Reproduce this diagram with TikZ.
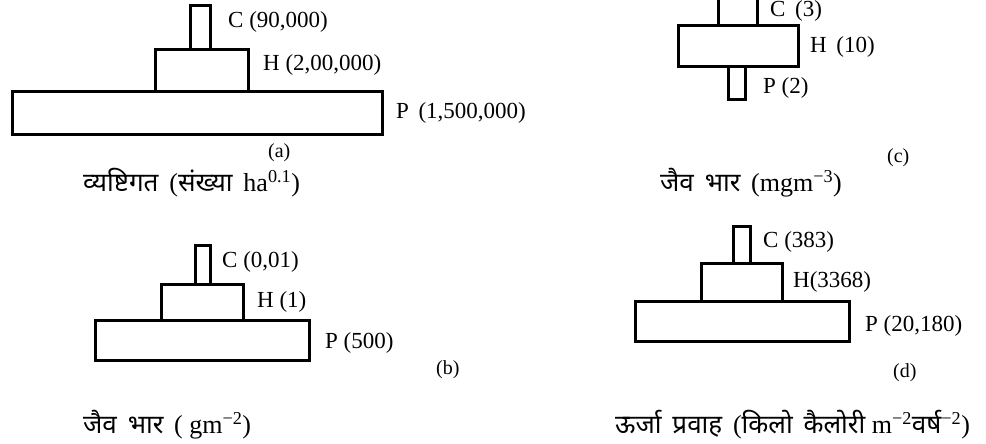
\documentclass[tikz,border=0pt]{standalone}
\usepackage{fontspec}
\setmainfont{Liberation Serif}
\newfontfamily\deva[Script=Devanagari,WordSpace=1.6]{Noto Sans}
\begin{document}
\begin{tikzpicture}[x=1pt,y=-1pt,
  tier/.style={draw, line width=3pt, inner sep=0pt, outer sep=0pt, anchor=north west},
  lab/.style={anchor=west, inner sep=0pt, font=\fontsize{23}{23}\selectfont},
  tag/.style={anchor=west, inner sep=0pt, font=\fontsize{20}{20}\selectfont},
  captext/.style={anchor=west, inner sep=0pt, font=\fontsize{26}{26}\selectfont}]
\useasboundingbox (0,0) rectangle (986,444);
\clip (0,0) rectangle (986,444);
% ---------- (a) ----------
\node[tier, minimum width=20, minimum height=44] (aC) at (190,6) {};
\node[tier, minimum width=93, minimum height=42] (aH) at (155,50) {};
\node[tier, minimum width=370, minimum height=42] (aP) at (12,92) {};
\node[lab] (aCl) at (228,22) {C (90,000)};
\node[lab] (aHl) at (263,65) {H (2,00,000)};
\node[lab] (aPl) at (396,113) {P\, (1,500,000)};
\node[tag] (aT) at (268,153) {(a)};
\node[captext] (aCap) at (83,183) {{\deva व्यष्टिगत} \,({\deva संख्या} \,ha\textsuperscript{0.1})};
% ---------- (b) ----------
\node[tier, minimum width=15, minimum height=39] (bC) at (195,245) {};
\node[tier, minimum width=82, minimum height=36] (bH) at (161,284) {};
\node[tier, minimum width=214, minimum height=40] (bP) at (95,320) {};
\node[lab] (bCl) at (222,262) {C (0,01)};
\node[lab] (bHl) at (257,302) {H (1)};
\node[lab] (bPl) at (325,343) {P (500)};
\node[tag] (bT) at (436,370) {(b)};
\node[captext] (bCap) at (83,425) {{\deva जैव भार} \,( gm\textsuperscript{−2})};
% ---------- (c) ----------
\node[tier, minimum width=39, minimum height=40] (cC) at (718,-14) {};
\node[tier, minimum width=120, minimum height=41] (cH) at (678,26) {};
\node[tier, minimum width=17, minimum height=33] (cP) at (728,67) {};
\node[lab] (cCl) at (770,11) {C\, (3)};
\node[lab] (cHl) at (810,47) {H\, (10)};
\node[lab] (cPl) at (763,88) {P (2)};
\node[tag] (cT) at (887,158) {(c)};
\node[captext] (cCap) at (660,183) {{\deva जैव भार} \,(mgm\textsuperscript{−3})};
% ---------- (d) ----------
\node[tier, minimum width=17, minimum height=37] (dC) at (733,226) {};
\node[tier, minimum width=81, minimum height=38] (dH) at (701,263) {};
\node[tier, minimum width=214, minimum height=40] (dP) at (635,301) {};
\node[lab] (dCl) at (763,242) {C (383)};
\node[lab] (dHl) at (793,282) {H(3368)};
\node[lab] (dPl) at (865,326) {P (20,180)};
\node[tag] (dT) at (893,373) {(d)};
\node[captext] (dCap) at (615,425) {{\deva ऊर्जा प्रवाह} \,({\deva किलो कैलोरी} m\textsuperscript{−2}{\deva वर्ष}\textsuperscript{−2})};
\end{tikzpicture}
\end{document}
